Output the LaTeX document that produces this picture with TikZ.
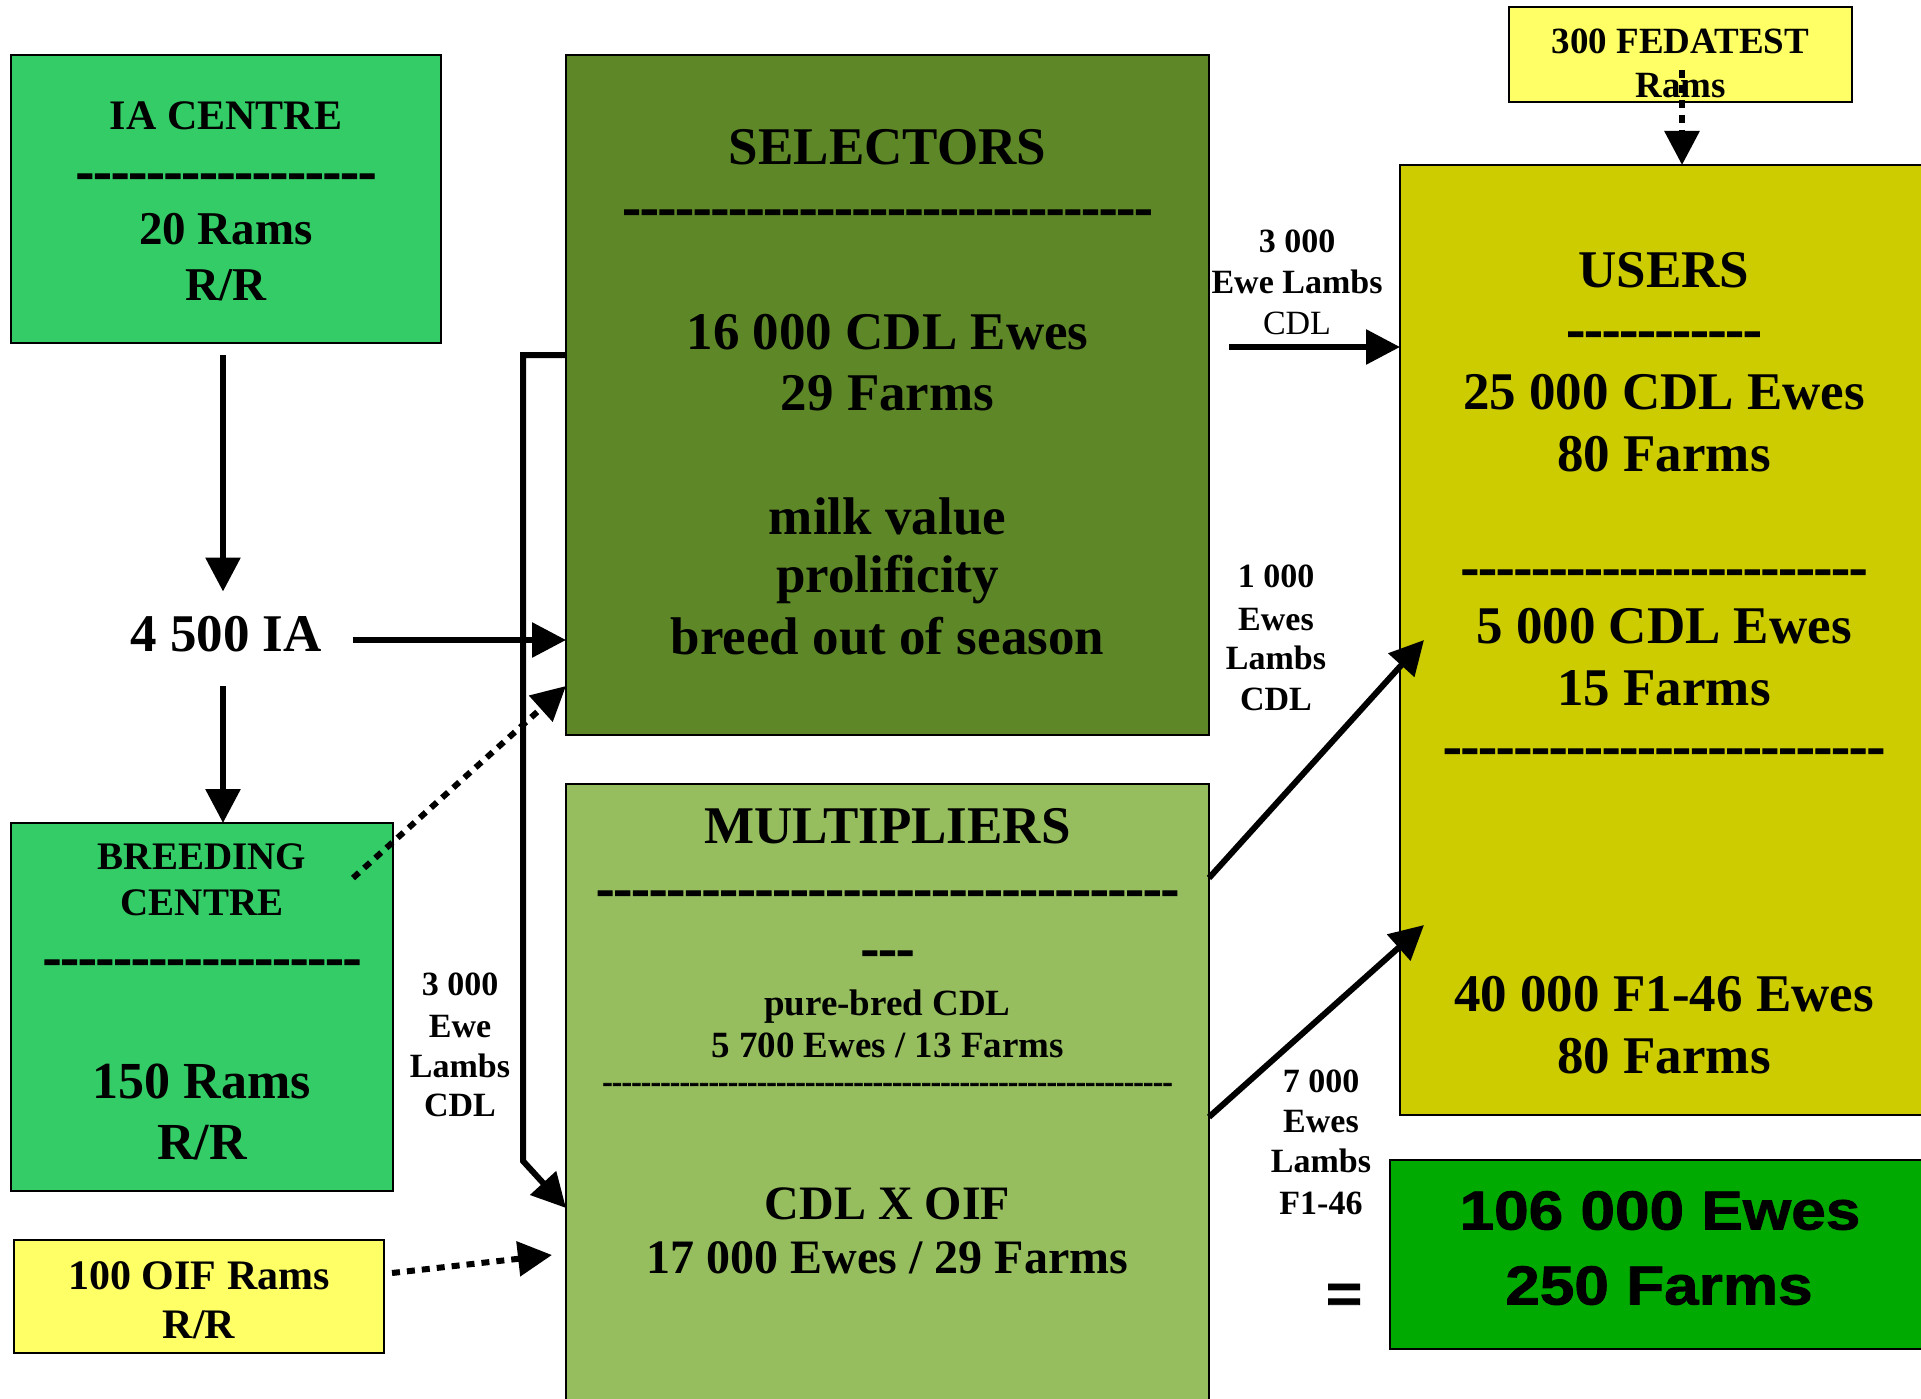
\documentclass[tikz,border=0pt]{standalone}
\usepackage{fontspec}
\setmainfont{Liberation Serif}
\newfontfamily\sansblk{Liberation Sans}[FakeStretch=1.13,FakeBold=1.5]
\newfontfamily\dashfnt{Liberation Serif}[FakeBold=2.5]
\usetikzlibrary{arrows.meta,calc}
\newcommand\fsz[1]{\fontsize{#1pt}{#1pt}\selectfont}
\newcommand\hyps[1]{\foreach\hyi in {1,...,#1}{\mbox{-}}}
\definecolor{cgreen}{RGB}{51,204,102}
\definecolor{csel}{RGB}{94,135,40}
\definecolor{cmul}{RGB}{150,190,94}
\definecolor{cusr}{RGB}{204,204,0}
\definecolor{cyel}{RGB}{255,255,102}
\definecolor{ctot}{RGB}{0,170,0}
\begin{document}
\begin{tikzpicture}[x=1pt,y=-1pt,
  box/.style={draw=black, line width=1.5pt, inner sep=0pt, outer sep=0pt},
  t/.code={\pgfmathsetmacro\mytxh{0.66*#1}\tikzset{inner sep=0pt, outer sep=0pt, text depth=0pt, text height=\mytxh pt, font=\bfseries\fsz{#1}}},
  tr/.code={\pgfmathsetmacro\mytxh{0.66*#1}\tikzset{inner sep=0pt, outer sep=0pt, text depth=0pt, text height=\mytxh pt, font=\fsz{#1}}},
  hy/.code={\pgfmathsetmacro\mytxh{0.44*#1}\tikzset{inner sep=0pt, outer sep=0pt, text depth=0pt, text height=\mytxh pt, font=\dashfnt\bfseries\fsz{#1}}},
  ts/.style={inner sep=0pt, outer sep=0pt, text depth=0pt, text height=39pt, font=\sansblk\bfseries\fsz{55}},
  arr/.style={line width=6pt, -{Triangle[length=34pt,width=34pt]}},
  dotarr/.style={arr, dash pattern=on 8pt off 7pt}
]
\useasboundingbox (0,0) rectangle (1921,1399);
\clip (0,0) rectangle (1921,1399);
\fill[white] (0,0) rectangle (1921,1399);

% boxes
\node[box, fill=cgreen, minimum width=430pt, minimum height=288pt] (ia) at (226,199) {};
\node[box, fill=csel, minimum width=643pt, minimum height=680pt] (sel) at (887.5,395) {};
\node[box, fill=cmul, minimum width=643pt, minimum height=626pt] (mul) at (887.5,1097) {};
\node[box, fill=cusr, minimum width=530pt, minimum height=950pt] (usr) at (1665,640) {};
\node[box, fill=cyel, minimum width=343pt, minimum height=95pt] (fed) at (1680.5,54.5) {};
\node[box, fill=ctot, minimum width=540pt, minimum height=189pt] (tot) at (1660,1254.5) {};
\node[box, fill=cgreen, minimum width=382pt, minimum height=368pt] (bc) at (202,1007) {};
\node[box, fill=cyel, minimum width=370pt, minimum height=113pt] (oif) at (199,1296.5) {};

% IA centre
\node[t=42] (ia1) at (226,116) {IA CENTRE};
\node[hy=53] (ia2) at (226,177) {\hyps{17}};
\node[t=47] (ia3) at (226,229) {20 Rams};
\node[t=47] (ia4) at (226,285) {R/R};

% 4 500 IA
\node[t=53] (num) at (226,634) {4 500 IA};

% Breeding centre
\node[t=39] (bc1) at (202,857) {BREEDING};
\node[t=39] (bc2) at (202,903) {CENTRE};
\node[hy=53] (bc3) at (202,963) {\hyps{18}};
\node[t=52] (bc4) at (202,1081) {150 Rams};
\node[t=52] (bc5) at (202,1142) {R/R};

% OIF
\node[t=42] (oif1) at (199,1276) {100 OIF Rams};
\node[t=42] (oif2) at (199,1325) {R/R};

% Selectors
\node[t=53] (sel1) at (887.5,147) {SELECTORS};
\node[hy=53] (sel2) at (887.5,213) {\hyps{30}};
\node[t=53] (sel3) at (887.5,332) {16 000 CDL Ewes};
\node[t=53] (sel4) at (887.5,393) {29 Farms};
\node[t=53] (sel5) at (887.5,517) {milk value};
\node[t=53] (sel6) at (887.5,575) {prolificity};
\node[t=53] (sel7) at (887.5,637) {breed out of season};

% Multipliers
\node[t=53] (mul1) at (887.5,826) {MULTIPLIERS};
\node[hy=53] (mul2) at (887.5,894) {\hyps{33}};
\node[hy=53] (mul3) at (887.5,954) {\hyps{3}};
\node[t=37] (mul4) at (887.5,1003) {pure-bred CDL};
\node[t=37] (mul5) at (887.5,1045) {5 700 Ewes / 13 Farms};
\node[hy=29] (mul6) at (887.5,1085) {\hyps{59}};
\node[t=48] (mul7) at (887.5,1204) {CDL X OIF};
\node[t=48] (mul8) at (887.5,1258) {17 000 Ewes / 29 Farms};

% Users
\node[t=53] (usr1) at (1664,270) {USERS};
\node[hy=53] (usr2) at (1664,335) {\hyps{11}};
\node[t=53] (usr3) at (1664,392) {25 000 CDL Ewes};
\node[t=53] (usr4) at (1664,454) {80 Farms};
\node[hy=53] (usr5) at (1664,573) {\hyps{23}};
\node[t=53] (usr6) at (1664,626) {5 000 CDL Ewes};
\node[t=53] (usr7) at (1664,688) {15 Farms};
\node[hy=53] (usr8) at (1664,752) {\hyps{25}};
\node[t=53] (usr9) at (1664,994) {40 000 F1-46 Ewes};
\node[t=53] (usr10) at (1664,1056) {80 Farms};

% Fedatest
\node[t=37] (fed1) at (1680.5,41) {300 FEDATEST};
\node[t=37] (fed2) at (1680.5,85) {Rams};

% Total
\node[ts] (tot1) at (1660,1210) {106 000 Ewes};
\node[ts] (tot2) at (1659,1285) {250 Farms};
\node[ts] (eq) at (1344,1293) {=};

% flow labels
\node[t=34] (la1a) at (1297,241) {3 000};
\node[t=34] (la1b) at (1297,282) {Ewe Lambs};
\node[tr=34] (la1c) at (1297,323) {CDL};

\node[t=34] (la2a) at (1276,576) {1 000};
\node[t=34] (la2b) at (1276,619) {Ewes};
\node[t=34] (la2c) at (1276,658) {Lambs};
\node[t=34] (la2d) at (1276,699) {CDL};

\node[t=34] (la3a) at (460,984) {3 000};
\node[t=34] (la3b) at (460,1026) {Ewe};
\node[t=34] (la3c) at (460,1066) {Lambs};
\node[t=34] (la3d) at (460,1105) {CDL};

\node[t=34] (la4a) at (1321,1081) {7 000};
\node[t=34] (la4b) at (1321,1121) {Ewes};
\node[t=34] (la4c) at (1321,1161) {Lambs};
\node[t=34] (la4d) at (1321,1203) {F1-46};

% connectors
\draw[arr] ($(ia.south)+(-3,12)$) -- ($(num.north)+(-3,-25)$);
\coordinate (numr) at ($(num.east)+(31,6)$);
\draw[arr] (numr) -- (numr -| sel.west);
\coordinate (numb) at ($(num.south)+(-3,35)$);
\draw[arr] (numb) -- (numb |- bc.north);
\draw[dotarr] ($(bc.north east)+(-40,55)$) -- ($(sel.south west)+(0,-49)$);
\draw[dotarr] ($(oif.north east)+(8,33)$) -- ($(mul.north west)+(-14,471)$);
\draw[arr] ($(sel.north west)+(0,300)$) -- ++(-43,0) -- ++(0,806) -- ($(mul.north west)+(0,424)$);
\draw[arr] ($(sel.north east)+(20,292)$) -- ($(usr.north west)+(0,182)$);
\draw[arr] ($(mul.north east)+(0,94)$) -- ($(usr.north west)+(24,475)$);
\draw[arr] ($(mul.north east)+(0,333)$) -- ($(usr.north west)+(24,760)$);
\coordinate (fedtop) at ($(fed.south)+(1.5,-32)$);
\draw[dotarr] (fedtop) -- (fedtop |- usr.north);
\end{tikzpicture}
\end{document}
